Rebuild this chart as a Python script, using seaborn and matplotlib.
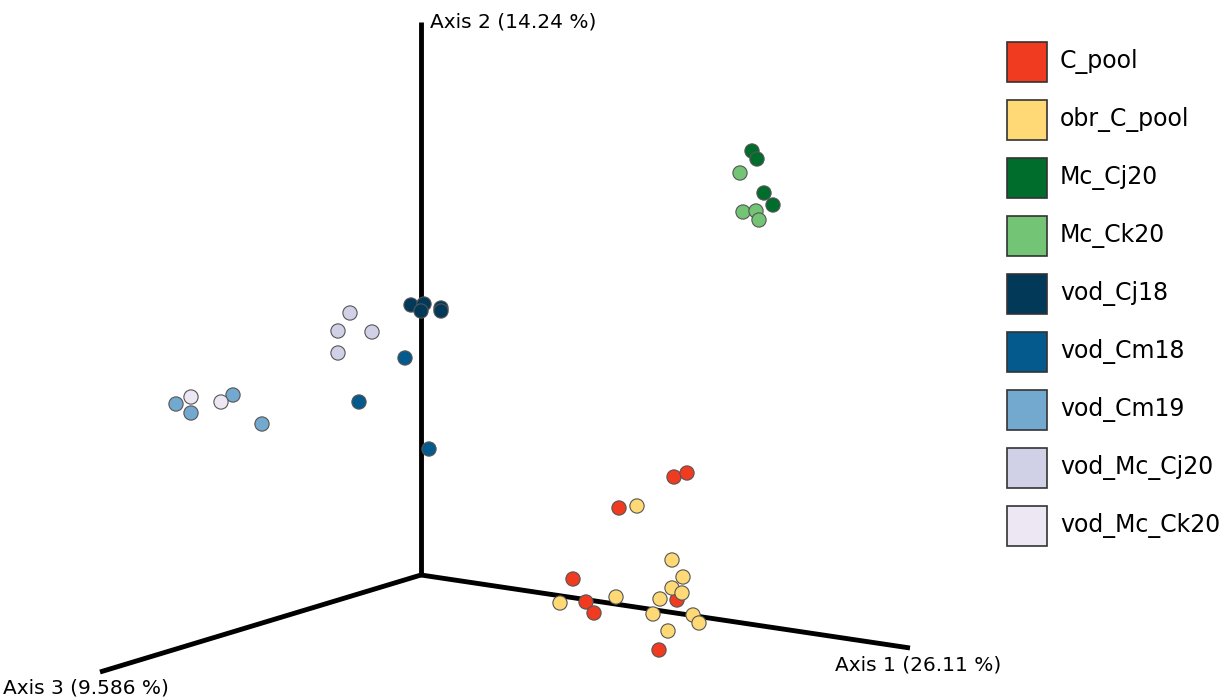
import pandas as pd
import seaborn as sns
import matplotlib.pyplot as plt
from matplotlib.patches import Rectangle

# group names and colours
groups = ["C_pool", "obr_C_pool", "Mc_Cj20", "Mc_Ck20", "vod_Cj18",
          "vod_Cm18", "vod_Cm19", "vod_Mc_Cj20", "vod_Mc_Ck20"]
colors = ["#f03b20", "#fed976", "#006d2c", "#74c476", "#023858",
          "#045a8d", "#74a9cf", "#d0d1e6", "#ece7f2"]

# projected sample positions (screen coords of the 3D PCoA view)
c_pool_x = [674, 687, 619, 573, 586, 594, 677, 659]
c_pool_y = [477, 473, 508, 579, 602, 613, 600, 650]
obr_x = [637, 672, 683, 672, 682, 660, 616, 560, 653, 693, 699, 668]
obr_y = [506, 560, 577, 588, 593, 599, 597, 603, 614, 615, 623, 631]
mc_cj20_x = [752, 757, 764, 773]
mc_cj20_y = [151, 159, 193, 205]
mc_ck20_x = [740, 743, 756, 759]
mc_ck20_y = [173, 212, 211, 220]
vod_cj18_x = [411, 424, 421, 441, 441]
vod_cj18_y = [305, 304, 311, 308, 311]
vod_cm18_x = [405, 359, 429]
vod_cm18_y = [358, 402, 449]
vod_cm19_x = [176, 191, 233, 262]
vod_cm19_y = [404, 413, 395, 424]
vod_mc_cj20_x = [350, 338, 372, 338]
vod_mc_cj20_y = [313, 331, 332, 353]
vod_mc_ck20_x = [191, 221]
vod_mc_ck20_y = [397, 402]

axis_labels = ["Axis 1 (26.11 %)", "Axis 2 (14.24 %)", "Axis 3 (9.586 %)"]

xs = [c_pool_x, obr_x, mc_cj20_x, mc_ck20_x, vod_cj18_x, vod_cm18_x,
      vod_cm19_x, vod_mc_cj20_x, vod_mc_ck20_x]
ys = [c_pool_y, obr_y, mc_cj20_y, mc_ck20_y, vod_cj18_y, vod_cm18_y,
      vod_cm19_y, vod_mc_cj20_y, vod_mc_ck20_y]
rows = []
for g, gx, gy in zip(groups, xs, ys):
    for x, y in zip(gx, gy):
        rows.append({"group": g, "x": x, "y": y})
df = pd.DataFrame(rows)

sns.set_style("white")
plt.rcParams['font.family'] = ['DejaVu Sans']
plt.rcParams['text.color'] = 'black'

fig = plt.figure(figsize=(12.31, 6.98), dpi=100)
ax = fig.add_axes([0, 0, 1, 1])
ax.set_xlim(0, 1231)
ax.set_ylim(698, 0)
ax.axis("off")

# the three PCoA axes from the origin
origin = (421, 575)
ends = [(910, 648), (421, 22), (100, 672)]
for e in ends:
    ax.plot([origin[0], e[0]], [origin[1], e[1]], color="black", lw=3.5,
            solid_capstyle="butt", zorder=1)

sns.scatterplot(data=df, x="x", y="y", hue="group", hue_order=groups,
                palette=dict(zip(groups, colors)), s=105, edgecolor="#555555",
                linewidth=0.8, legend=False, ax=ax, zorder=3)

ax.text(835, 665, axis_labels[0], fontsize=14.5, va="center", ha="left")
ax.text(430, 22, axis_labels[1], fontsize=14.5, va="center", ha="left")
ax.text(3, 688, axis_labels[2], fontsize=14.5, va="center", ha="left")

# legend
for i, (g, c) in enumerate(zip(groups, colors)):
    yc = 62 + i * 58
    ax.add_patch(Rectangle((1007, yc - 20), 40, 40, facecolor=c,
                           edgecolor="#333333", lw=1.2, zorder=4))
    ax.text(1060, yc, g, fontsize=17, va="center", ha="left")

fig.savefig("out.png", dpi=100)
